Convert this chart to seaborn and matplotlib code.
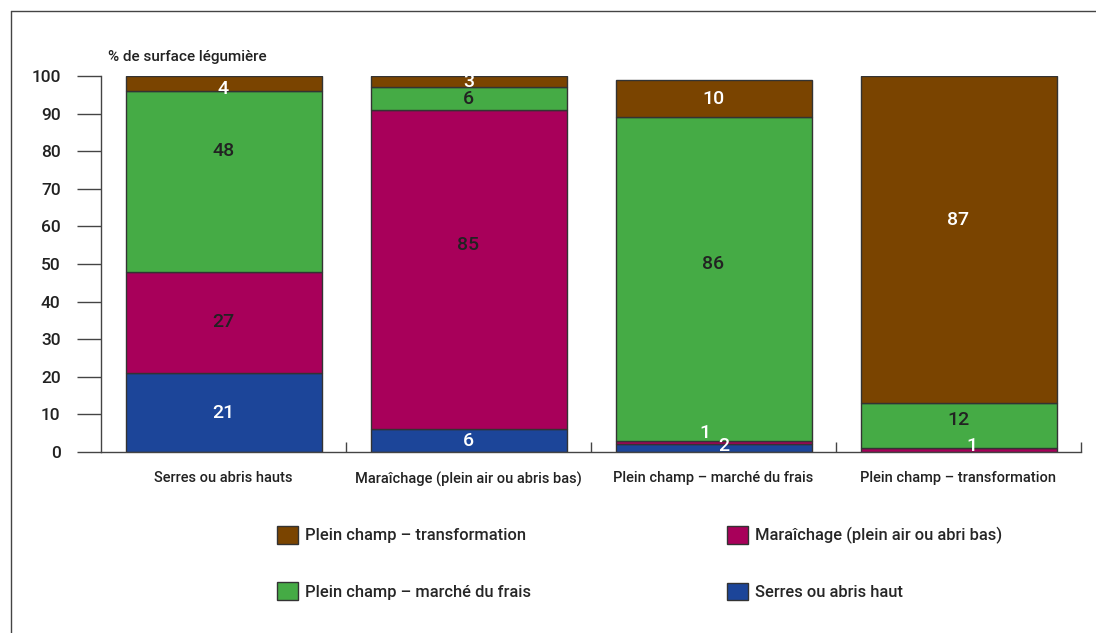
import matplotlib
matplotlib.use("Agg")
import matplotlib.pyplot as plt
import seaborn as sns
import numpy as np
from matplotlib.lines import Line2D
from matplotlib.patches import Patch

categories = ["Serres ou abris hauts", "Maraîchage (plein air ou abris bas)",
              "Plein champ – marché du frais", "Plein champ – transformation"]
serres = [21, 6, 2, 0]
maraichage = [27, 85, 1, 1]
frais = [48, 6, 86, 12]
transformation = [4, 3, 10, 87]

series_names = ["Serres ou abris haut", "Maraîchage (plein air ou abri bas)",
                "Plein champ – marché du frais", "Plein champ – transformation"]
yticks = [0, 10, 20, 30, 40, 50, 60, 70, 80, 90, 100]
ylabel = "% de surface légumière"

sns.set_theme(style="white")
plt.rcParams['font.family'] = ['Roboto', 'DejaVu Sans']
plt.rcParams['font.weight'] = 'medium'

colors = ["#1C4599", "#A8005A", "#45AB45", "#7A4400"]
txt_colors = ["white", "#222222", "#222222", "white"]
data = [serres, maraichage, frais, transformation]

# label nudges in pixels (series index, bar index) -> (dx, dy)
nudges = {(2, 0): (0, 30), (1, 1): (0, 25), (2, 2): (0, 15), (3, 3): (0, 20),
          (2, 3): (0, 6), (3, 0): (0, -5), (1, 2): (-9, 10), (0, 2): (10, 2),
          (1, 3): (13, 4)}

W, H = 1096, 633
fig = plt.figure(figsize=(W / 100, H / 100), dpi=100)
ax = fig.add_axes([101 / W, 1 - 452 / H, 980 / W, (452 - 76) / H])

bottom = np.zeros(len(categories))
for s, (vals, col, tcol) in enumerate(zip(data, colors, txt_colors)):
    vals = np.array(vals, dtype=float)
    sns.barplot(x=categories, y=vals, bottom=bottom, color=col, width=0.8,
                edgecolor="#333333", linewidth=1.0, saturation=1, ax=ax)
    for i, (v, b) in enumerate(zip(vals, bottom)):
        if v <= 0:
            continue
        c = "white" if v < 3 else tcol
        dx, dy = nudges.get((s, i), (0, 0))
        ax.annotate(f"{int(v)}", (i, b + v / 2), xytext=(dx, dy),
                    textcoords="offset pixels", ha="center", va="center",
                    color=c, fontsize=14)
    bottom += vals

ax.set_xlim(-0.5, len(categories) - 0.5)
ax.set_ylim(0, 100)
ax.set_yticks(yticks)
ax.set_xlabel("")
ax.set_ylabel("")
for sp in ["top", "right"]:
    ax.spines[sp].set_visible(False)
for sp in ["left", "bottom"]:
    ax.spines[sp].set_color("#444444")
    ax.spines[sp].set_linewidth(1.0)
ax.tick_params(axis="y", direction="out", length=17, width=1.0, color="#444444",
               pad=12, labelsize=12.5, left=True, labelcolor="#222222")
ax.tick_params(axis="x", which="major", length=0, pad=14, labelsize=10.5,
               labelcolor="#222222")
ax.set_xticks(np.arange(len(categories)) + 0.5, minor=True)
ax.tick_params(axis="x", which="minor", direction="in", length=7, width=1.0,
               color="#444444", bottom=True)

fig.text(108 / W, 1 - 57 / H, ylabel, ha="left", va="center", fontsize=11,
         color="#222222")

# outer frame
fig.add_artist(Line2D([11 / W, 11 / W], [0, 1 - 11 / H], transform=fig.transFigure,
                      color="#444444", lw=1.0))
fig.add_artist(Line2D([11 / W, 1], [1 - 11 / H, 1 - 11 / H], transform=fig.transFigure,
                      color="#444444", lw=1.0))

def handles(idx):
    return [Patch(facecolor=colors[k], edgecolor="#333333", linewidth=1.0) for k in idx]

fs = 11.9
for idx, x0 in [((3, 2), 277), ((1, 0), 727)]:
    fig.legend(handles(idx), [series_names[k] for k in idx], loc="upper left",
               bbox_to_anchor=(x0 / W, 1 - 526 / H), frameon=False, fontsize=fs,
               handlelength=1.27, handleheight=1.27, labelspacing=2.33,
               handletextpad=0.45, borderpad=0, borderaxespad=0)

fig.savefig("out.png", dpi=100)
